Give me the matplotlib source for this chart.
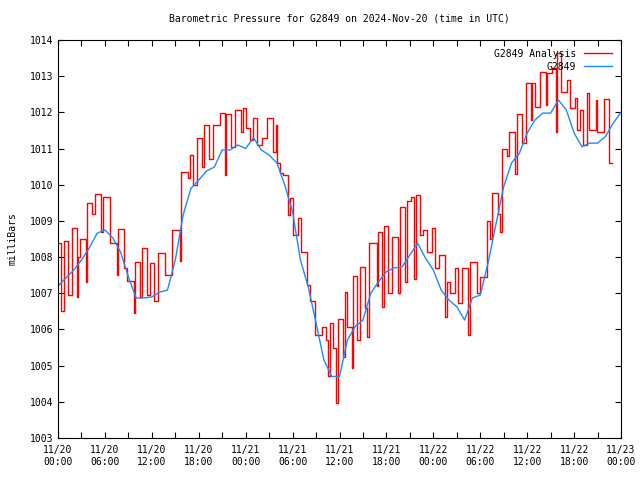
import matplotlib
matplotlib.use("Agg")
import matplotlib.pyplot as plt
from matplotlib.ticker import MultipleLocator, FixedLocator

plt.rcParams["font.family"] = ["DejaVu Sans Mono"]
plt.rcParams["font.size"] = 7

# hours since 2024-11-20 00:00 UTC
blue_hours = list(range(0, 73))
blue_mb = [1007.2, 1007.42, 1007.64, 1007.92, 1008.25, 1008.66, 1008.75, 1008.53, 1008.14, 1007.45,
           1006.87, 1006.87, 1006.9, 1007.03, 1007.09, 1007.92, 1009.16, 1009.9, 1010.13, 1010.38,
           1010.49, 1010.96, 1010.96, 1011.1, 1011.0, 1011.3, 1010.96, 1010.82, 1010.6, 1009.99,
           1009.25, 1007.92, 1007.18, 1006.18, 1005.16, 1004.7, 1004.7, 1005.7, 1006.08, 1006.26,
           1007.0, 1007.32, 1007.6, 1007.7, 1007.73, 1008.06, 1008.38, 1007.97, 1007.64, 1007.09,
           1006.81, 1006.63, 1006.26, 1006.87, 1006.95, 1007.84, 1008.9, 1009.95, 1010.6, 1010.87,
           1011.43, 1011.79, 1011.98, 1011.98, 1012.34, 1012.07, 1011.43, 1011.05, 1011.15, 1011.15,
           1011.33, 1011.7, 1012.0]

red_hours = [0.0, 0.38, 0.77, 1.28, 1.79, 2.43, 2.56, 2.81, 3.58, 3.71, 4.35, 4.73, 5.50, 5.75,
             6.65, 7.54, 7.67, 8.44, 8.82, 9.72, 9.85, 10.49, 10.74, 11.38, 11.76, 12.28, 12.79,
             13.68, 14.58, 15.60, 15.73, 16.62, 16.88, 17.26, 17.77, 18.41, 18.67, 19.31, 19.82,
             20.72, 21.36, 21.48, 22.12, 22.63, 23.40, 23.66, 24.04, 24.55, 24.94, 25.45, 26.09,
             26.73, 27.49, 27.88, 28.01, 28.39, 28.77, 29.41, 29.67, 30.05, 30.69, 31.07, 31.84,
             32.23, 32.86, 33.76, 34.27, 34.53, 34.78, 35.17, 35.55, 35.81, 36.45, 36.70, 36.96,
             37.60, 37.72, 38.24, 38.62, 39.26, 39.51, 39.77, 40.79, 40.92, 41.43, 41.69, 42.20,
             42.71, 43.48, 43.73, 44.37, 44.63, 45.14, 45.52, 45.78, 46.29, 46.68, 47.19, 47.83,
             48.21, 48.72, 49.49, 49.74, 50.13, 50.77, 51.15, 51.66, 52.43, 52.69, 53.58, 53.96,
             54.86, 55.24, 55.50, 56.27, 56.52, 56.78, 57.42, 57.67, 58.44, 58.70, 59.34, 59.85,
             60.49, 60.61, 61.00, 61.64, 62.40, 62.53, 63.17, 63.68, 63.81, 64.32, 65.09, 65.47,
             66.11, 66.37, 66.75, 67.14, 67.65, 67.90, 68.80, 68.93, 69.82, 70.46, 70.84]
red_mb = [1008.4, 1006.5, 1008.45, 1006.95, 1008.8, 1006.9, 1008.0, 1008.5, 1007.3, 1009.5,
          1009.2, 1009.74, 1008.7, 1009.65, 1008.4, 1007.5, 1008.78, 1007.7, 1007.34, 1006.45,
          1007.87, 1006.9, 1008.25, 1006.95, 1007.84, 1006.8, 1008.1, 1007.5, 1008.75, 1007.9,
          1010.36, 1010.18, 1010.82, 1010.0, 1011.3, 1010.5, 1011.65, 1010.7, 1011.65, 1011.98,
          1010.27, 1011.95, 1011.05, 1012.07, 1011.46, 1012.12, 1011.57, 1011.24, 1011.85, 1011.1,
          1011.3, 1011.85, 1010.9, 1011.65, 1010.6, 1010.32, 1010.27, 1009.16, 1009.63, 1008.6,
          1009.08, 1008.14, 1007.23, 1006.8, 1005.85, 1006.07, 1005.7, 1004.7, 1006.18, 1005.5,
          1003.97, 1006.3, 1005.24, 1007.04, 1006.07, 1004.93, 1007.48, 1005.7, 1007.73, 1006.6,
          1005.8, 1008.39, 1007.2, 1008.7, 1006.63, 1008.86, 1007.0, 1008.56, 1007.0, 1009.38,
          1007.3, 1009.55, 1009.66, 1007.4, 1009.71, 1008.6, 1008.75, 1008.14, 1008.8, 1007.7,
          1008.06, 1006.35, 1007.3, 1007.0, 1007.7, 1006.73, 1007.7, 1005.85, 1007.87, 1007.0,
          1007.45, 1009.0, 1008.5, 1009.77, 1009.2, 1008.7, 1011.0, 1010.8, 1011.46, 1010.3,
          1011.95, 1011.15, 1012.81, 1011.8, 1012.8, 1012.15, 1013.12, 1012.2, 1013.09, 1013.22,
          1011.46, 1013.64, 1012.56, 1012.9, 1012.12, 1012.4, 1011.51, 1012.07, 1011.1, 1012.54,
          1011.5, 1012.34, 1011.46, 1012.37, 1010.6, 1010.6]

tick_labels = ["11/20\n00:00", "11/20\n06:00", "11/20\n12:00", "11/20\n18:00",
               "11/21\n00:00", "11/21\n06:00", "11/21\n12:00", "11/21\n18:00",
               "11/22\n00:00", "11/22\n06:00", "11/22\n12:00", "11/22\n18:00",
               "11/23\n00:00"]

fig = plt.figure(figsize=(6.4, 4.8), dpi=100)
ax = fig.add_axes([58 / 640, 1 - 438 / 480, (621 - 58) / 640, (438 - 40) / 480])

ax.plot(red_hours, red_mb, drawstyle="steps-post", color="#ff0000", lw=1.0, label="G2849 Analysis")
ax.plot(blue_hours, blue_mb, color="#1a8cff", lw=1.0, label="G2849")

ax.set_xlim(0, 72)
ax.set_ylim(1003, 1014)
ax.xaxis.set_major_locator(FixedLocator(range(0, 73, 6)))
ax.set_xticklabels(tick_labels, linespacing=1.3)
ax.xaxis.set_minor_locator(MultipleLocator(3))
ax.yaxis.set_major_locator(MultipleLocator(1))
ax.tick_params(which="both", direction="in", top=True, right=True, length=4, width=0.8, labelsize=7)
ax.tick_params(axis="x", pad=5)
for s in ax.spines.values():
    s.set_linewidth(0.8)

ax.set_ylabel("milliBars", fontsize=7, labelpad=9)
ax.set_title("Barometric Pressure for G2849 on 2024-Nov-20 (time in UTC)", fontsize=7, pad=13)

leg = ax.legend(loc="upper right", frameon=False, fontsize=7, markerfirst=False,
                handlelength=2.9, handletextpad=0.8, borderaxespad=0.5, labelspacing=0.3)
for t in leg.get_texts():
    t.set_ha("right")

fig.savefig("out.png", dpi=100)
